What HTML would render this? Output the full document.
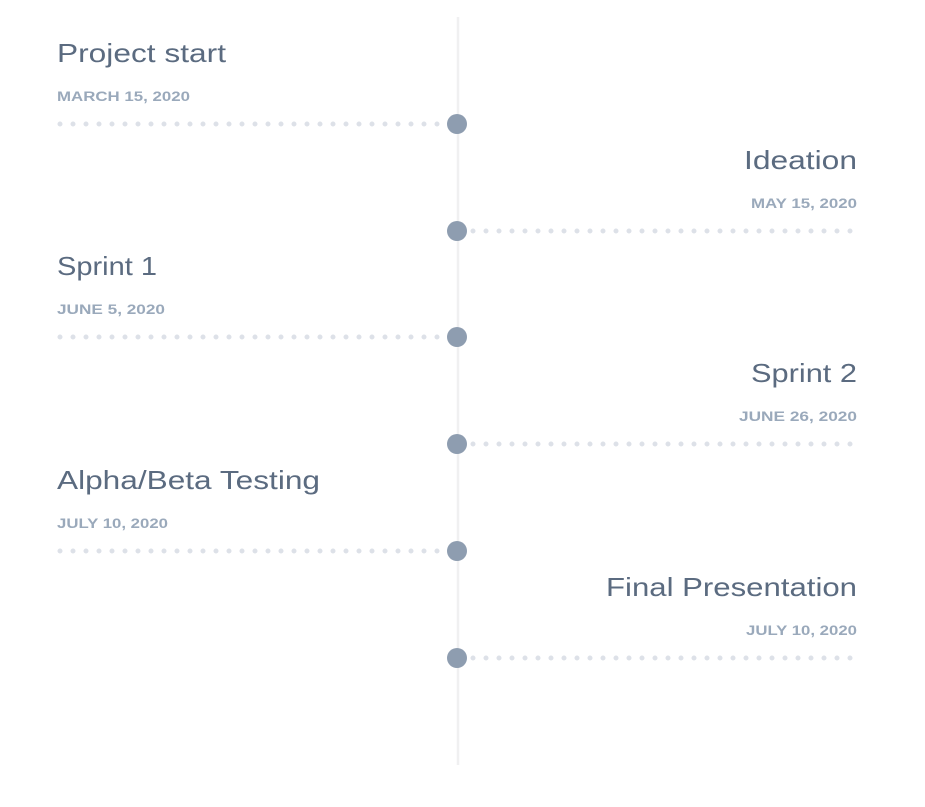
<!DOCTYPE html>
<html><head><meta charset="utf-8"><style>
html,body{margin:0;padding:0;background:#fff;width:925px;height:807px;overflow:hidden}
.t{font-family:"Liberation Sans",sans-serif;font-size:26px;fill:#5b6b80}
.d{font-family:"Liberation Sans",sans-serif;font-size:13.5px;font-weight:bold;fill:#9aa9bb}
.dots{stroke:#dde1e8;stroke-width:5;stroke-linecap:round;stroke-dasharray:0 13}
.n{fill:#8e9db0}
</style></head><body>
<svg width="925" height="807" viewBox="0 0 925 807" xmlns="http://www.w3.org/2000/svg">
<line x1="458" y1="17" x2="458" y2="765" stroke="#f0f0f1" stroke-width="2.5"/>

<text class="t" x="57" y="62" textLength="169" lengthAdjust="spacingAndGlyphs">Project start</text>
<text class="d" x="57" y="101" textLength="133" lengthAdjust="spacingAndGlyphs">MARCH 15, 2020</text>
<line class="dots" x1="60" y1="124" x2="444" y2="124"/>
<circle class="n" cx="457" cy="124" r="10"/>

<text class="t" x="857" y="169" text-anchor="end" textLength="113" lengthAdjust="spacingAndGlyphs">Ideation</text>
<text class="d" x="857" y="208" text-anchor="end" textLength="106" lengthAdjust="spacingAndGlyphs">MAY 15, 2020</text>
<line class="dots" x1="473" y1="231" x2="857" y2="231"/>
<circle class="n" cx="457" cy="231" r="10"/>

<text class="t" x="57" y="275" textLength="100" lengthAdjust="spacingAndGlyphs">Sprint 1</text>
<text class="d" x="57" y="314" textLength="108" lengthAdjust="spacingAndGlyphs">JUNE 5, 2020</text>
<line class="dots" x1="60" y1="337" x2="444" y2="337"/>
<circle class="n" cx="457" cy="337" r="10"/>

<text class="t" x="857" y="382" text-anchor="end" textLength="106" lengthAdjust="spacingAndGlyphs">Sprint 2</text>
<text class="d" x="857" y="421" text-anchor="end" textLength="118" lengthAdjust="spacingAndGlyphs">JUNE 26, 2020</text>
<line class="dots" x1="473" y1="444" x2="857" y2="444"/>
<circle class="n" cx="457" cy="444" r="10"/>

<text class="t" x="57" y="489" textLength="263" lengthAdjust="spacingAndGlyphs">Alpha/Beta Testing</text>
<text class="d" x="57" y="528" textLength="111" lengthAdjust="spacingAndGlyphs">JULY 10, 2020</text>
<line class="dots" x1="60" y1="551" x2="444" y2="551"/>
<circle class="n" cx="457" cy="551" r="10"/>

<text class="t" x="857" y="596" text-anchor="end" textLength="251" lengthAdjust="spacingAndGlyphs">Final Presentation</text>
<text class="d" x="857" y="635" text-anchor="end" textLength="111" lengthAdjust="spacingAndGlyphs">JULY 10, 2020</text>
<line class="dots" x1="473" y1="658" x2="857" y2="658"/>
<circle class="n" cx="457" cy="658" r="10"/>
</svg>
</body></html>
